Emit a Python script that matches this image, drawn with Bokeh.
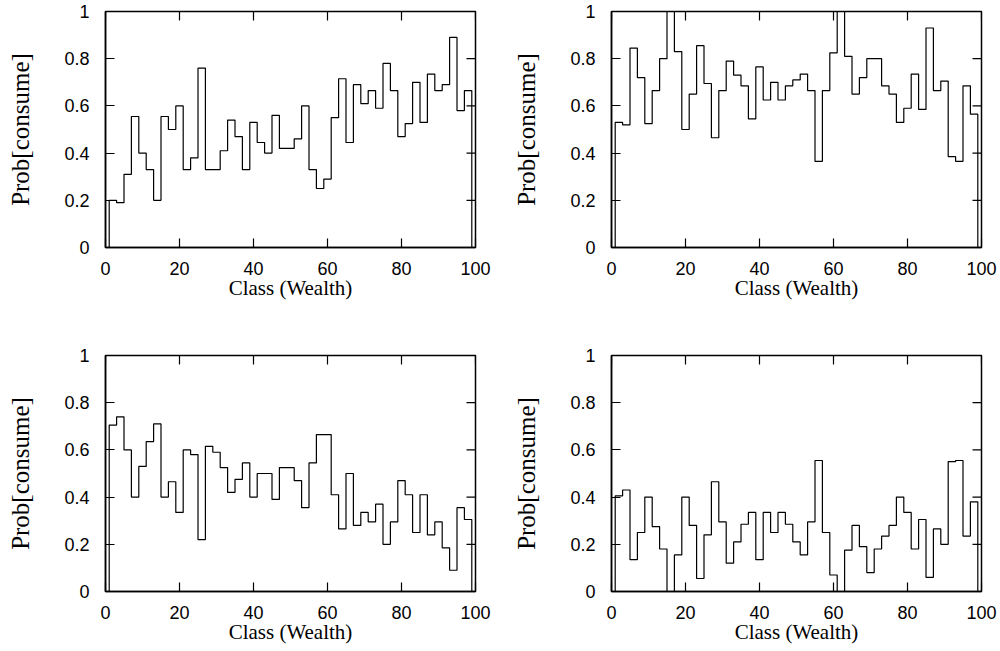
import math
from bokeh.plotting import figure
from bokeh.layouts import gridplot
from bokeh.models import FixedTicker, Range1d
from bokeh.embed import file_html
from bokeh.resources import INLINE

# ---- data ----
class_centers = list(range(2, 100, 2))  # 49 wealth classes, width 2

prob_a = [0.20, 0.19, 0.31, 0.555, 0.40, 0.33, 0.20, 0.555, 0.50, 0.60,
          0.33, 0.38, 0.76, 0.33, 0.33, 0.41, 0.54, 0.47, 0.33, 0.53,
          0.445, 0.40, 0.56, 0.42, 0.42, 0.46, 0.60, 0.33, 0.25, 0.29,
          0.55, 0.715, 0.445, 0.69, 0.61, 0.665, 0.59, 0.78, 0.665, 0.47,
          0.525, 0.70, 0.53, 0.735, 0.665, 0.69, 0.89, 0.58, 0.665]

prob_b = [0.53, 0.52, 0.845, 0.72, 0.525, 0.665, 0.80, 1.05, 0.83, 0.50,
          0.65, 0.855, 0.695, 0.465, 0.665, 0.79, 0.73, 0.685, 0.545, 0.765,
          0.625, 0.70, 0.625, 0.685, 0.71, 0.735, 0.665, 0.365, 0.665, 0.825,
          1.05, 0.81, 0.65, 0.72, 0.80, 0.80, 0.685, 0.65, 0.53, 0.59,
          0.735, 0.585, 0.93, 0.665, 0.705, 0.385, 0.365, 0.685, 0.565]

prob_c = [0.705, 0.74, 0.60, 0.40, 0.53, 0.635, 0.71, 0.40, 0.465, 0.335,
          0.60, 0.58, 0.22, 0.615, 0.59, 0.525, 0.42, 0.475, 0.545, 0.40,
          0.50, 0.50, 0.39, 0.525, 0.525, 0.47, 0.355, 0.545, 0.665, 0.665,
          0.41, 0.265, 0.50, 0.28, 0.335, 0.295, 0.37, 0.20, 0.295, 0.47,
          0.41, 0.25, 0.41, 0.24, 0.295, 0.185, 0.09, 0.355, 0.305]

prob_d = [0.405, 0.43, 0.135, 0.25, 0.40, 0.275, 0.18, 0.0, 0.155, 0.40,
          0.28, 0.055, 0.24, 0.465, 0.295, 0.12, 0.21, 0.285, 0.335, 0.135,
          0.335, 0.25, 0.335, 0.285, 0.21, 0.155, 0.295, 0.555, 0.25, 0.07,
          0.0, 0.175, 0.28, 0.19, 0.08, 0.18, 0.235, 0.28, 0.40, 0.335,
          0.18, 0.305, 0.06, 0.265, 0.20, 0.55, 0.555, 0.235, 0.38]

x_ticks = [0, 20, 40, 60, 80, 100]
x_tick_labels = ["0", "20", "40", "60", "80", "100"]
y_ticks = [0, 0.2, 0.4, 0.6, 0.8, 1]
y_tick_labels = ["0", "0.2", "0.4", "0.6", "0.8", "1"]

x_title = "Class (Wealth)"
y_title = "Prob[consume]"

SANS = "Liberation Sans"
SERIF = "Liberation Serif"
TICK_LEN = 9


def histeps_path(centers, vals):
    """Outline of a histogram-step curve (gnuplot 'histeps' style)."""
    xs, ys = [], []
    half = (centers[1] - centers[0]) / 2.0
    xs.append(centers[0] - half)
    ys.append(0.0)
    for c, v in zip(centers, vals):
        xs += [c - half, c + half]
        ys += [v, v]
    xs.append(centers[-1] + half)
    ys.append(0.0)
    return xs, ys


def make_panel(vals, left, right, top, bottom):
    xr = Range1d(x_ticks[0], x_ticks[-1])
    yr = Range1d(y_ticks[0], y_ticks[-1])
    p = figure(frame_width=370, frame_height=236,
               min_border_left=left, min_border_right=right,
               min_border_top=top, min_border_bottom=bottom,
               x_range=xr, y_range=yr,
               output_backend="svg", toolbar_location=None,
               x_axis_label=x_title, y_axis_label=y_title)
    p.background_fill_color = "white"
    p.border_fill_color = "white"
    p.outline_line_color = "black"
    p.outline_line_width = 1.5
    p.xgrid.grid_line_color = None
    p.ygrid.grid_line_color = None

    xs, ys = histeps_path(class_centers, vals)
    p.line(xs, ys, line_color="black", line_width=1.2)

    for ax in p.xaxis:
        ax.ticker = FixedTicker(ticks=x_ticks)
        ax.major_label_overrides = dict(zip(x_ticks, x_tick_labels))
        ax.major_label_standoff = 14
        ax.axis_label_text_font_size = "21px"
        ax.axis_label_standoff = -2
    for ax in p.yaxis:
        ax.ticker = FixedTicker(ticks=y_ticks)
        ax.major_label_overrides = dict(zip(y_ticks, y_tick_labels))
        ax.major_label_standoff = 16
        ax.axis_label_text_font_size = "25px"
        ax.axis_label_standoff = 27
    for ax in p.xaxis + p.yaxis:
        ax.major_tick_in = TICK_LEN
        ax.major_tick_out = 0
        ax.minor_tick_in = 0
        ax.minor_tick_out = 0
        ax.axis_line_width = 1.5
        ax.major_tick_line_width = 1.2
        ax.major_label_text_font = SANS
        ax.major_label_text_font_size = "18px"
        ax.major_label_text_color = "black"
        ax.axis_label_text_font = SERIF
        ax.axis_label_text_font_style = "normal"
        ax.axis_label_text_color = "black"

    # mirrored (inward) tick marks on the top and right edges of the frame;
    # the half outside the frame is clipped away
    p.scatter(x=x_ticks, y=[yr.end] * len(x_ticks), marker="dash",
              angle=math.pi / 2, size=2 * TICK_LEN,
              line_color="black", line_width=1.2)
    p.scatter(x=[xr.end] * len(y_ticks), y=y_ticks, marker="dash",
              size=2 * TICK_LEN, line_color="black", line_width=1.2)
    return p


p1 = make_panel(prob_a, 105, 35, 11, 95)
p2 = make_panel(prob_b, 97, 18, 11, 95)
p3 = make_panel(prob_c, 105, 35, 13, 58)
p4 = make_panel(prob_d, 97, 18, 13, 58)

grid = gridplot([[p1, p2], [p3, p4]], toolbar_location=None)

open("out.html", "w").write(file_html(grid, INLINE))
